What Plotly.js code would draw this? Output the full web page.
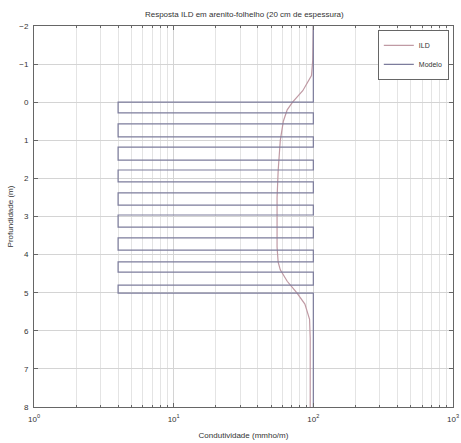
<!DOCTYPE html>
<html>
<head>
<meta charset="utf-8">
<script src="https://cdn.plot.ly/plotly-3.0.1.min.js"></script>
<style>html,body{margin:0;padding:0;background:#fff;}#chart{width:461px;height:443px;}</style>
</head>
<body>
<div id="chart"></div>
<script>
// ILD response (smooth curve)
const ildDepth = [-2, -1.5, -1.1, -0.7, -0.3, 0.0, 0.2, 0.5, 1.0, 1.8, 2.5, 3.2, 3.8, 4.2, 4.4, 4.7, 5.0, 5.3, 5.7, 6.2, 7.0, 8.0];
const ildCond  = [100, 100, 99, 97, 84, 71, 65, 61, 58, 56, 55, 55, 55, 56, 58, 65, 76, 87, 94, 95, 95, 95];

// Model: layer boundaries (depth) and conductivities
const layerBounds = [0, 0.28, 0.57, 0.91, 1.18, 1.52, 1.78, 2.09, 2.38, 2.70, 2.96, 3.28, 3.56, 3.88, 4.19, 4.46, 4.80, 5.01];
const condSand = 4;
const condShale = 100;
const depthRange = [-2, 8];

// build step line for model
const modelDepth = [depthRange[0]];
const modelCond = [condShale];
for (let i = 0; i < layerBounds.length; i++) {
  const prev = (i % 2 === 0) ? condShale : condSand;
  const next = (i % 2 === 0) ? condSand : condShale;
  modelDepth.push(layerBounds[i], layerBounds[i]);
  modelCond.push(prev, next);
}
modelDepth.push(depthRange[1]);
modelCond.push(condShale);

const fam = 'Liberation Sans, Arial, sans-serif';
const font = {family: fam, size: 8, color: '#333'};

const traces = [
  {x: ildCond, y: ildDepth, mode: 'lines', name: 'ILD', line: {color: '#c09aa4', width: 1.2}},
  {x: modelCond, y: modelDepth, mode: 'lines', name: 'Modelo', line: {color: '#7c7c9c', width: 1.2}}
];

const layout = {
  width: 461, height: 443,
  margin: {l: 34, r: 8, t: 26, b: 36},
  paper_bgcolor: '#fff', plot_bgcolor: '#fff',
  font: font,
  title: {text: 'Resposta ILD em arenito-folhelho (20 cm de espessura)', font: {family: fam, size: 8, color: '#333'}, x: 0.53, xanchor: 'center', y: 0.968, yanchor: 'middle'},
  xaxis: {
    type: 'log', range: [0, 3],
    tickvals: [1, 10, 100, 1000],
    ticktext: ['10<sup>0</sup>', '10<sup>1</sup>', '10<sup>2</sup>', '10<sup>3</sup>'],
    showgrid: true, gridcolor: '#d4d4d4', gridwidth: 1,
    minor: {dtick: 'D1', showgrid: true, gridcolor: '#e4e4e4', ticks: 'inside', ticklen: 2, tickcolor: '#666'},
    ticks: 'inside', ticklen: 4, tickcolor: '#666',
    ticklabelstandoff: 4,
    showline: true, linecolor: '#666', linewidth: 1, mirror: 'ticks',
    zeroline: false,
    title: {text: 'Condutividade (mmho/m)', font: {family: fam, size: 8, color: '#333'}, standoff: 9},
    tickfont: {family: fam, size: 8, color: '#333'}
  },
  yaxis: {
    range: [8, -2], autorange: false,
    tickvals: [-2, -1, 0, 1, 2, 3, 4, 5, 6, 7, 8],
    showgrid: true, gridcolor: '#d4d4d4', gridwidth: 1,
    ticks: 'inside', ticklen: 4, tickcolor: '#666',
    ticklabelstandoff: 3,
    showline: true, linecolor: '#666', linewidth: 1, mirror: 'ticks',
    zeroline: false,
    title: {text: 'Profundidade (m)', font: {family: fam, size: 8, color: '#333'}, standoff: 4},
    tickfont: {family: fam, size: 8, color: '#333'}
  },
  legend: {
    x: 0.99, y: 0.99, xanchor: 'right', yanchor: 'top',
    bgcolor: '#fff', bordercolor: '#666', borderwidth: 1,
    font: {family: fam, size: 7, color: '#333'},
    itemwidth: 30,
    tracegroupgap: 0
  },
  showlegend: true
};

Plotly.newPlot('chart', traces, layout, {staticPlot: true, displayModeBar: false});
</script>
</body>
</html>
